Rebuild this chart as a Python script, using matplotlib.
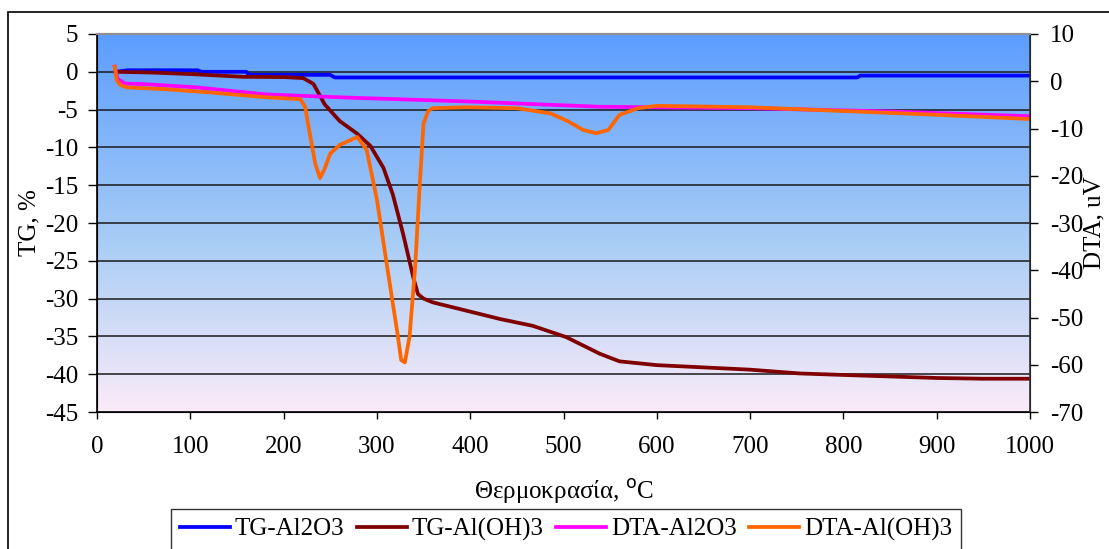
import numpy as np
import matplotlib
matplotlib.use('Agg')
import matplotlib.pyplot as plt
from matplotlib.colors import LinearSegmentedColormap
from matplotlib.patches import Rectangle

plt.rcParams['font.family'] = ['Liberation Serif', 'DejaVu Serif']
plt.rcParams['axes.unicode_minus'] = False

# TG curves (left axis, %)
t_tg_al2o3 = [20, 33, 108, 112, 160, 163, 250, 255, 815, 818, 1000]
tg_al2o3 = [0, 0.2, 0.2, 0, 0, -0.4, -0.4, -0.75, -0.75, -0.5, -0.5]

t_tg_aloh3 = [20, 60, 100, 156, 200, 221, 232, 244, 260, 279, 293, 307, 317, 328,
              339, 344, 350, 360, 396, 432, 467, 503, 539, 560, 600, 650, 700,
              753, 800, 850, 900, 950, 1000]
tg_aloh3 = [0, -0.1, -0.3, -0.66, -0.7, -0.83, -1.6, -4.3, -6.5, -8.2, -9.8, -12.7,
            -16.2, -21.4, -27.2, -29.4, -30.0, -30.5, -31.6, -32.7, -33.6, -35.1,
            -37.3, -38.3, -38.8, -39.1, -39.4, -39.9, -40.1, -40.3, -40.5, -40.6, -40.6]

# DTA curves (right axis, uV)
t_dta_al2o3 = [19, 22, 30, 50, 107, 182, 275, 400, 539, 700, 850, 1000]
dta_al2o3 = [3.1, 0.5, -0.5, -0.6, -1.3, -2.8, -3.5, -4.3, -5.4, -5.7, -6.4, -7.4]

t_dta_aloh3 = [19, 21, 25, 32, 75, 117, 182, 218, 223, 228, 234, 239, 244, 250,
               260, 270, 279, 289, 300, 311, 322, 326, 330, 335, 341, 346, 350, 355,
               360, 396, 450, 486, 505, 521, 535, 548, 560, 580, 600, 700, 800,
               900, 1000]
dta_aloh3 = [3.1, 0.3, -0.8, -1.3, -1.7, -2.3, -3.4, -3.8, -5.4, -11, -17.5, -20.5,
             -18.5, -15.3, -13.5, -12.6, -11.8, -14.5, -25, -39.3, -53.3, -59, -59.5,
             -54, -39.3, -21.6, -8.9, -6.3, -5.7, -5.5, -5.7, -6.8, -8.5, -10.3, -11,
             -10.3, -7.1, -5.7, -5.2, -5.5, -6.3, -7.1, -8]

fig = plt.figure(figsize=(11.09, 5.49), dpi=100)
ax = fig.add_axes([97/1109, 1-412/549, (1030-97)/1109, (412-34)/549])

# outer chart border (cut off at right/bottom like the original)
fig.patches.append(Rectangle((8/1109, -0.2), 1.5, 0.2 + (1-12/549), transform=fig.transFigure,
                             fill=False, edgecolor='black', linewidth=1.2))

# gradient plot background
cmap = LinearSegmentedColormap.from_list('bg', [(0, '#FBEBF9'), (0.45, '#A8CDF5'),
                                                (1, '#5C9DFF')])
grad = np.linspace(0, 1, 256).reshape(-1, 1)
ax.imshow(grad, cmap=cmap, aspect='auto', extent=[0, 1, 0, 1], origin='lower',
          transform=ax.transAxes, zorder=0)

ax.set_xlim(0, 1000)
ax.set_ylim(-45, 5)
ax.set_xticks(np.arange(0, 1001, 100))
ax.set_yticks(np.arange(-45, 6, 5))
for y in np.arange(-40, 5, 5):
    ax.axhline(y, color='#1a1a1a', linewidth=1.1, zorder=1)

l1, = ax.plot(t_tg_al2o3, tg_al2o3, color='#0000FF', linewidth=2.7, label='TG-Al2O3', zorder=3)
l2, = ax.plot(t_tg_aloh3, tg_aloh3, color='#800000', linewidth=2.7, label='TG-Al(OH)3', zorder=3)

ax2 = ax.twinx()
ax2.set_ylim(-70, 10)
ax2.set_yticks(np.arange(-70, 11, 10))
l3, = ax2.plot(t_dta_al2o3, dta_al2o3, color='#FF00FF', linewidth=2.7, label='DTA-Al2O3')
l4, = ax2.plot(t_dta_aloh3, dta_aloh3, color='#FF6600', linewidth=2.7, label='DTA-Al(OH)3')

for a in (ax, ax2):
    a.tick_params(direction='out', width=1, labelsize=18, color='black')
    a.spines['top'].set_color('#909090')
    a.spines['top'].set_linewidth(1.5)
ax.spines['left'].set_linewidth(1.2)
ax.spines['bottom'].set_linewidth(1.2)
ax2.spines['right'].set_color('#303030')
ax2.spines['right'].set_linewidth(1.2)
ax.tick_params(axis='x', length=5, pad=12)
ax.tick_params(axis='y', length=6.5, pad=7)
ax2.tick_params(axis='y', length=6, pad=8.5)

ax.set_ylabel('TG, %', fontsize=18)
ax2.set_ylabel('DTA, uV', fontsize=18)
ax.set_xlabel('Θερμοκρασία, $^{\\rm o}$C', fontsize=18)
ax.yaxis.label.set_va('center')
ax2.yaxis.label.set_va('center')
ax.xaxis.label.set_va('center')
ax.yaxis.set_label_coords((29-97)/933, 0.5)
ax2.yaxis.set_label_coords((1094-97)/933, 0.5)
ax.xaxis.set_label_coords(0.5, (412-491)/378)

leg = fig.legend(handles=[l1, l2, l3, l4], loc='upper center', ncol=4,
                 bbox_to_anchor=(566/1109, 1-509/549), fontsize=18, frameon=True,
                 fancybox=False, edgecolor='black', handlelength=2.0, handletextpad=0.2,
                 columnspacing=0.5, borderpad=0.35, borderaxespad=0)
leg.get_frame().set_linewidth(1.0)

fig.savefig('out.png', dpi=100)
